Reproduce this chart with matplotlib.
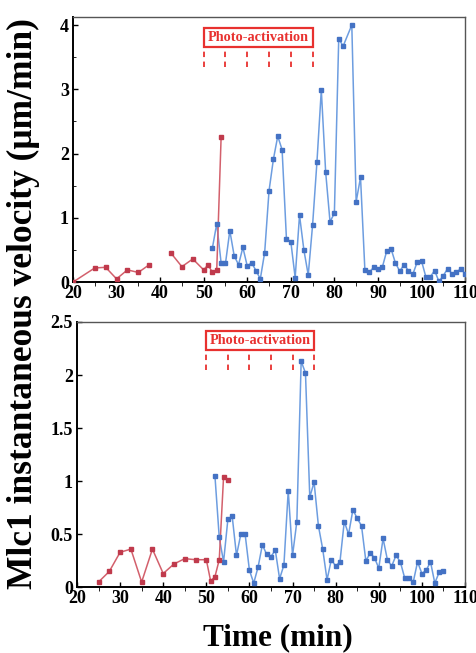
import numpy as np
import matplotlib
matplotlib.use('Agg')
import matplotlib.pyplot as plt
from matplotlib.patches import Rectangle
from matplotlib.ticker import MultipleLocator, FormatStrFormatter

plt.rcParams['font.family'] = ['Liberation Serif', 'DejaVu Serif']
plt.rcParams['font.weight'] = 'bold'

# Top panel data
top_red_x = [20, 25, 27.5, 30, 32.5, 35, 37.5, 40, 42.5, 45, 47.5, 50, 51, 52, 53, 54]
top_red_y = [0, 0.22, 0.23, 0.05, 0.19, 0.15, 0.27, np.nan, 0.45, 0.24, 0.36, 0.19, 0.27, 0.15, 0.19, 2.25]

top_blue_x = [52, 53, 54, 55, 56, 57, 58, 59, 60, 61, 62, 63, 64, 65, 66, 67, 68, 69, 70,
              71, 72, 73, 74, 75, 76, 77, 78, 79, 80, 81, 82, 84, 85, 86, 87, 88, 89, 90,
              91, 92, 93, 94, 95, 96, 97, 98, 99, 100, 101, 102, 103, 104, 105, 106, 107,
              108, 109, 110]
top_blue_y = [0.53, 0.91, 0.30, 0.29, 0.80, 0.41, 0.27, 0.54, 0.25, 0.30, 0.18, 0.05, 0.46,
              1.42, 1.91, 2.27, 2.06, 0.67, 0.63, 0.07, 1.04, 0.50, 0.11, 0.89, 1.87, 2.99,
              1.71, 0.94, 1.07, 3.79, 3.67, 4.00, 1.25, 1.63, 0.19, 0.15, 0.23, 0.20, 0.23,
              0.48, 0.52, 0.30, 0.17, 0.27, 0.18, 0.12, 0.31, 0.33, 0.08, 0.08, 0.18, 0.01,
              0.10, 0.21, 0.13, 0.15, 0.21, 0.13]

# Bottom panel data
bot_red_x = [25, 27.5, 30, 32.5, 35, 37.5, 40, 42.5, 45, 47.5, 50, 51, 52, 53, 54, 55]
bot_red_y = [0.05, 0.15, 0.33, 0.36, 0.05, 0.36, 0.13, 0.22, 0.27, 0.26, 0.26, 0.06, 0.10,
             0.26, 1.04, 1.01]

bot_blue_x = list(range(52, 106))
bot_blue_y = [1.05, 0.47, 0.24, 0.64, 0.67, 0.30, 0.50, 0.50, 0.16, 0.04, 0.19, 0.40, 0.31,
              0.29, 0.35, 0.08, 0.21, 0.91, 0.30, 0.62, 2.13, 2.02, 0.85, 0.99, 0.58, 0.36,
              0.07, 0.26, 0.20, 0.24, 0.62, 0.50, 0.73, 0.65, 0.58, 0.25, 0.32, 0.28, 0.18,
              0.46, 0.26, 0.20, 0.30, 0.24, 0.09, 0.09, 0.05, 0.24, 0.13, 0.16, 0.24, 0.04,
              0.14, 0.15]

activation_times = [50, 55, 60, 65, 70, 75]

RED_LINE = '#d3606c'
RED_MK = '#c03a4c'
BLUE_LINE = '#6d9de0'
BLUE_MK = '#4472c4'

fig = plt.figure(figsize=(4.77, 6.53), dpi=100)
ax1 = fig.add_axes([0.153, 0.568, 0.822, 0.4055])
ax2 = fig.add_axes([0.1614, 0.1006, 0.8134, 0.4063])


def draw_panel(ax, rx, ry, bx, by, ymax, ymajor, box_lo, box_hi, line_lo):
    ax.plot(bx, by, '-', color=BLUE_LINE, lw=1.1, zorder=2)
    ax.plot(bx, by, 's', color=BLUE_MK, ms=3.4, zorder=3)
    ax.plot(rx, ry, '-', color=RED_LINE, lw=1.1, zorder=2)
    ax.plot(rx, ry, 's', color=RED_MK, ms=3.4, zorder=3)

    # photo-activation marker
    ax.add_patch(Rectangle((activation_times[0], box_lo), activation_times[-1] - activation_times[0],
                           box_hi - box_lo, fill=False, edgecolor='#e8312f', lw=1.6, zorder=4))
    ax.text((activation_times[0] + activation_times[-1]) / 2, (box_lo + box_hi) / 2,
            'Photo-activation', color='#e8312f', fontsize=10.3, fontweight='bold',
            ha='center', va='center', zorder=5)
    for t in activation_times:
        ax.plot([t, t], [line_lo, box_lo], ls=(0, (3, 2.5)), color='#e8312f', lw=1.3, zorder=4)

    ax.set_xlim(20, 110)
    ax.set_ylim(0, ymax)
    ax.xaxis.set_major_locator(MultipleLocator(10))
    ax.xaxis.set_minor_locator(MultipleLocator(5))
    ax.yaxis.set_major_locator(MultipleLocator(ymajor))
    ax.yaxis.set_minor_locator(MultipleLocator(0.5))
    ax.yaxis.set_major_formatter(FormatStrFormatter('%g'))
    ax.tick_params(axis='both', labelsize=13, width=1, length=3.5, direction='in', pad=3)
    ax.tick_params(axis='x', which='minor', direction='out', length=3)
    ax.tick_params(axis='y', which='minor', direction='in', length=2.5)
    ax.tick_params(axis='x', pad=2)
    for lab in ax.get_xticklabels() + ax.get_yticklabels():
        lab.set_fontweight('bold')
    ax.spines['left'].set_linewidth(1.4)
    ax.spines['bottom'].set_linewidth(1.4)
    for s in ('top', 'right'):
        ax.spines[s].set_linewidth(1.0)
        ax.spines[s].set_color('#555555')


draw_panel(ax1, top_red_x, top_red_y, top_blue_x, top_blue_y, 4.12, 1, 3.66, 3.95, 3.35)
draw_panel(ax2, bot_red_x, bot_red_y, bot_blue_x, bot_blue_y, 2.5, 0.5, 2.24, 2.415, 2.05)

fig.text(0.05, 0.535, 'Mlc1 instantaneous velocity (\u03bcm/min)', rotation=90,
         ha='center', va='center', fontsize=25.5, fontweight='bold')
fig.text(0.582, 0.023, 'Time (min)', ha='center', va='center', fontsize=22.5, fontweight='bold')

fig.savefig('out.png', dpi=100)
